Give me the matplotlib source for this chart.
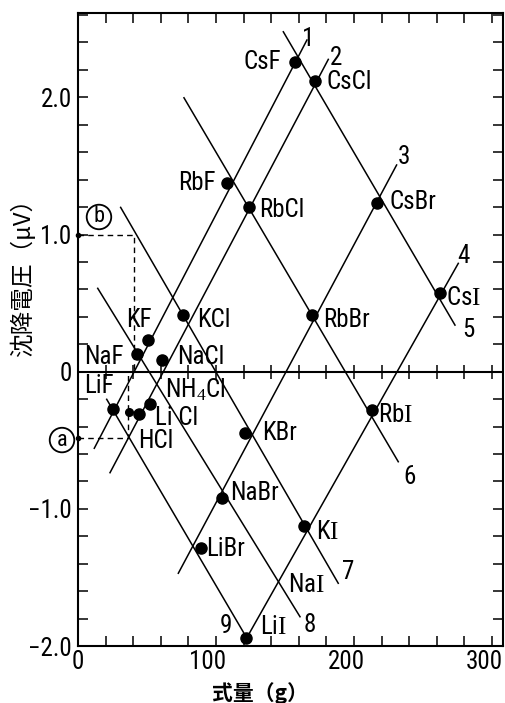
import matplotlib
matplotlib.use('Agg')
import matplotlib.pyplot as plt
import numpy as np
from matplotlib.transforms import ScaledTranslation

plt.rcParams['font.family'] = ['Liberation Sans Narrow', 'DejaVu Sans Condensed',
                               'Roboto Condensed', 'Liberation Sans']
plt.rcParams['mathtext.fontset'] = 'custom'
plt.rcParams['mathtext.rm'] = 'Liberation Serif'
plt.rcParams['mathtext.default'] = 'rm'

# salts: formula weight (g) vs sedimentation voltage (uV)
salts = ['CsF', 'CsCl', 'CsBr', 'CsI', 'RbF', 'RbCl', 'RbBr', 'RbI',
         'KF', 'KCl', 'KBr', 'KI', 'NaF', 'NaCl', 'NaBr',
         'LiF', 'HCl', 'LiCl', 'NH4Cl', 'LiBr', 'LiI']
weight = [157.6, 171.7, 216.4, 262.3, 107.8, 124.1, 169.3, 212.8,
          50.5, 75.9, 121.0, 163.8, 43.1, 60.9, 104.1,
          25.6, 37.0, 44.4, 52.2, 88.9, 121.7]
voltage = [2.259, 2.119, 1.227, 0.571, 1.373, 1.203, 0.413, -0.279,
           0.231, 0.413, -0.449, -1.125, 0.129, 0.085, -0.923,
           -0.274, -0.292, -0.308, -0.235, -1.283, -1.943]

# straight lines 1-9 (start / end)
line_no = ['1', '2', '3', '4', '5', '6', '7', '8', '9']
line_x0 = [11.8, 23.2, 72.7, 121.0, 148.8, 76.8, 30.9, 14.3, 20.8]
line_y0 = [-0.558, -0.736, -1.469, -1.963, 2.478, 1.997, 1.198, 0.608, -0.201]
line_x1 = [165.9, 181.4, 230.9, 275.6, 273.2, 232.1, 188.6, 160.9, 123.2]
line_y1 = [2.418, 2.277, 1.507, 0.790, 0.340, -0.656, -1.542, -1.786, -1.956]

# reading examples (a) and (b)
read_name = ['a', 'b']
read_x = [36.0, 40.6]
read_y = [-0.485, 1.0]

# label placement (text, x, y, ha); iodine drawn with a serif I as in the original
labels = [('CsF', 147.1, 2.260, 'right'), ('CsCl', 180.4, 2.111, 'left'),
          ('RbF', 100.0, 1.375, 'right'), ('RbCl', 131.2, 1.178, 'left'),
          ('CsBr', 225.4, 1.237, 'left'), ('Cs$I$', 266.7, 0.537, 'left'),
          ('RbBr', 177.5, 0.377, 'left'), ('KF', 34.8, 0.377, 'left'),
          ('KCl', 86.2, 0.377, 'left'), ('NaF', 4.3, 0.107, 'left'),
          ('NaCl', 71.7, 0.107, 'left'), ('LiF', 4.3, -0.104, 'left'),
          ('NH$_4$Cl', 63.0, -0.133, 'left'), ('Li Cl', 55.8, -0.337, 'left'),
          ('HCl', 43.5, -0.505, 'left'), ('KBr', 133.3, -0.447, 'left'),
          ('Rb$I$', 217.4, -0.316, 'left'), ('NaBr', 110.1, -0.884, 'left'),
          ('K$I$', 172.5, -1.168, 'left'), ('LiBr', 92.8, -1.292, 'left'),
          ('Na$I$', 152.2, -1.555, 'left'), ('Li$I$', 131.9, -1.860, 'left')]
num_pos = [(166.7, 2.425), (187.0, 2.286), (236.2, 1.565), (279.0, 0.843),
           (282.6, 0.304), (240.6, -0.768), (195.7, -1.460), (168.1, -1.846),
           (107.2, -1.853)]
circ_pos = [(-11.6, -0.498), (15.2, 1.128)]

fs = 18

fig = plt.figure(figsize=(5.06, 7.03), dpi=100)
ax = fig.add_axes([78 / 506, 56.9 / 703, 425 / 506, 633.1 / 703])
ax.set_xlim(0, 308)
ax.set_ylim(-2.0, 2.615)

for i in range(len(line_no)):
    ax.plot([line_x0[i], line_x1[i]], [line_y0[i], line_y1[i]],
            color='k', lw=1.1)
    ax.text(num_pos[i][0], num_pos[i][1], line_no[i], fontsize=fs,
            ha='center', va='center')

# zero line with cross ticks
ax.axhline(0, color='k', lw=1.5)
xt = np.arange(20, 301, 20)
ax.plot(xt, np.zeros(len(xt)), ls='none', marker='|', ms=9.5, mew=1.1,
        color='k')

big = [s != 'HCl' for s in salts]
w = np.array(weight)
v = np.array(voltage)
m = np.array(big)
ax.plot(w[m], v[m], 'o', color='k', ms=8, clip_on=False, zorder=5)
ax.plot(w[~m], v[~m], 'o', color='k', ms=5.5, zorder=5)

for t, x, y, ha in labels:
    ax.text(x, y, t, fontsize=fs, ha=ha, va='center')

# dashed reading lines
for i in range(len(read_name)):
    ax.plot([0, read_x[i], read_x[i]], [read_y[i], read_y[i], 0],
            color='k', lw=1.0, ls=(0, (4, 3)))
    ax.plot([0], [read_y[i]], 'o', color='k', ms=3, clip_on=False)
    ax.text(circ_pos[i][0], circ_pos[i][1], read_name[i], fontsize=16,
            ha='center', va='center', clip_on=False,
            bbox=dict(boxstyle='circle,pad=0.08', fc='white', ec='k', lw=1.3))

xticks = np.arange(0, 301, 20)
ax.set_xticks(xticks)
ax.set_xticklabels([str(t) if t % 100 == 0 else '' for t in xticks])
yticks = np.round(np.arange(-2.0, 2.61, 0.2), 1)
ylab = {2.0: '2.0', 1.0: '1.0', 0.0: '0', -1.0: '\u22121.0', -2.0: '\u22122.0'}
ax.set_yticks(yticks)
ax.set_yticklabels([ylab.get(round(t, 1), '') for t in yticks])
ax.tick_params(direction='in', length=7, width=1.1, top=True, right=True,
               labelsize=fs, pad=3)
ax.tick_params(axis='y', pad=4.5)
for s in ax.spines.values():
    s.set_linewidth(1.5)

# hand-lettered 100/200/300 sit a little left of their ticks
shift = ScaledTranslation(-8 / 100, 0, fig.dpi_scale_trans)
for t, lbl in zip(xticks, ax.get_xticklabels()):
    if t > 0:
        lbl.set_transform(lbl.get_transform() + shift)

cjk = ['Noto Sans CJK JP', 'DejaVu Sans']
ax.set_ylabel('沈降電圧（μV）', fontsize=17, family=cjk, va='center',
              ha='center')
ax.yaxis.set_label_coords(-0.132, 0.592)
ax.set_xlabel('式量（g）', fontsize=15, family=cjk, weight='bold',
              va='center', ha='center')
ax.xaxis.set_label_coords(0.428, -0.074)

plt.savefig('out.png', dpi=100)
